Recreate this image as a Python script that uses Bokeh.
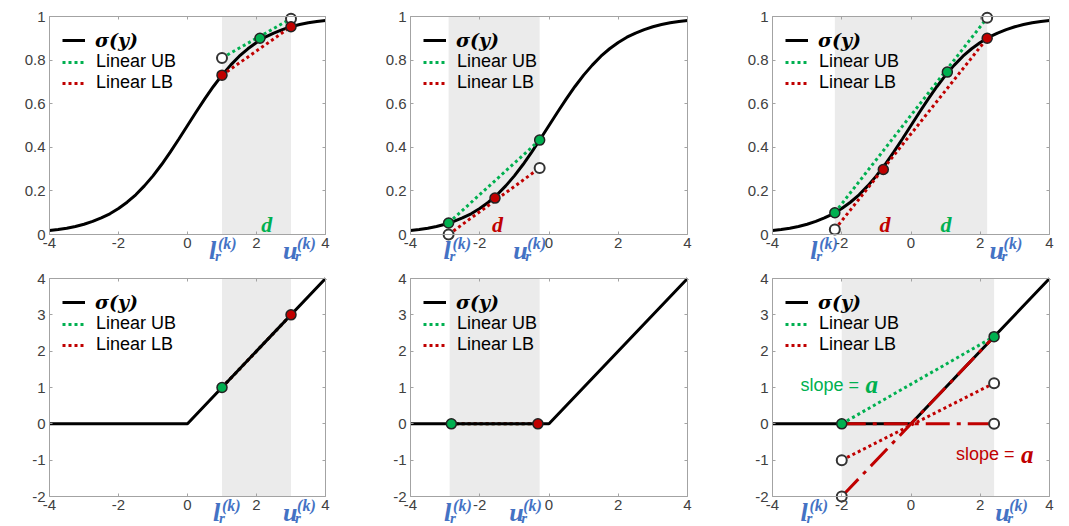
from bokeh.plotting import figure
from bokeh.layouts import column, row
from bokeh.models import (Range1d, LinearAxis, FixedTicker, BoxAnnotation, Label,
                          Legend, LegendItem)
from bokeh.embed import file_html
from bokeh.resources import INLINE

# ---------------- data ----------------
SIG_X = [-4, -3.75, -3.5, -3.25, -3, -2.75, -2.5, -2.25, -2, -1.75, -1.5, -1.25, -1,
         -0.75, -0.5, -0.25, 0, 0.25, 0.5, 0.75, 1, 1.25, 1.5, 1.75, 2, 2.25, 2.5,
         2.75, 3, 3.25, 3.5, 3.75, 4]
SIG_Y = [0.018, 0.023, 0.029, 0.037, 0.047, 0.060, 0.076, 0.095, 0.119, 0.148, 0.182,
         0.223, 0.269, 0.321, 0.378, 0.438, 0.500, 0.562, 0.622, 0.679, 0.731, 0.777,
         0.818, 0.852, 0.881, 0.905, 0.924, 0.940, 0.953, 0.963, 0.971, 0.977, 0.982]
RELU_X = [-4, 0, 4]
RELU_Y = [0, 0, 4]

X_TICKS = [-4, -2, 0, 2, 4]
X_TICK_LABELS = ["-4", "-2", "0", "2", "4"]
SIG_Y_TICKS = [0, 0.2, 0.4, 0.6, 0.8, 1]
SIG_Y_TICK_LABELS = ["0", "0.2", "0.4", "0.6", "0.8", "1"]
RELU_Y_TICKS = [-2, -1, 0, 1, 2, 3, 4]
RELU_Y_TICK_LABELS = ["-2", "-1", "0", "1", "2", "3", "4"]

LEGEND_LABELS = ["σ(y)", "Linear UB", "Linear LB"]

# panel 1: sigmoid, concave region
P1_BAND = [1.0, 3.0]
P1_UB_X = [1.0, 3.0]
P1_UB_Y = [0.81, 0.99]
P1_LB_X = [1.0, 3.0]
P1_LB_Y = [0.731, 0.953]
P1_GREEN_X = [2.1]
P1_GREEN_Y = [0.90]
P1_RED_X = [1.0, 3.0]
P1_RED_Y = [0.731, 0.953]
P1_OPEN_X = [1.0, 3.0]
P1_OPEN_Y = [0.81, 0.99]

# panel 2: sigmoid, convex region
P2_BAND = [-2.9, -0.27]
P2_UB_X = [-2.9, -0.27]
P2_UB_Y = [0.053, 0.433]
P2_LB_X = [-2.9, -0.27]
P2_LB_Y = [0.0, 0.305]
P2_GREEN_X = [-2.9, -0.27]
P2_GREEN_Y = [0.053, 0.433]
P2_RED_X = [-1.56]
P2_RED_Y = [0.167]
P2_OPEN_X = [-2.9, -0.27]
P2_OPEN_Y = [0.0, 0.305]

# panel 3: sigmoid, mixed region
P3_BAND = [-2.2, 2.2]
P3_UB_X = [-2.2, 2.2]
P3_UB_Y = [0.100, 0.994]
P3_LB_X = [-2.2, 2.2]
P3_LB_Y = [0.023, 0.900]
P3_GREEN_X = [-2.2, 1.05]
P3_GREEN_Y = [0.100, 0.745]
P3_RED_X = [-0.8, 2.2]
P3_RED_Y = [0.298, 0.900]
P3_OPEN_X = [-2.2, 2.2]
P3_OPEN_Y = [0.023, 0.994]

# panel 4: ReLU, active
P4_BAND = [1.0, 3.0]
P4_UB_X = [1.0, 3.0]
P4_UB_Y = [1.0, 3.0]
P4_LB_X = [1.0, 3.0]
P4_LB_Y = [1.0, 3.0]
P4_GREEN_X = [1.0]
P4_GREEN_Y = [1.0]
P4_RED_X = [3.0]
P4_RED_Y = [3.0]
P4_OPEN_X = []
P4_OPEN_Y = []

# panel 5: ReLU, inactive
P5_BAND = [-2.87, -0.27]
P5_UB_X = [-2.87, -0.27]
P5_UB_Y = [0.0, 0.0]
P5_LB_X = [-2.87, -0.27]
P5_LB_Y = [0.0, 0.0]
P5_GREEN_X = [-2.82]
P5_GREEN_Y = [0.0]
P5_RED_X = [-0.32]
P5_RED_Y = [0.0]
P5_OPEN_X = []
P5_OPEN_Y = []

# panel 6: ReLU, unstable
P6_BAND = [-2.0, 2.4]
P6_UB_X = [-2.0, 2.4]
P6_UB_Y = [0.0, 2.4]
P6_LB_X = [-2.0, 2.4]
P6_LB_Y = [-1.0, 1.12]
P6_GREEN_X = [-2.0, 2.4]
P6_GREEN_Y = [0.0, 2.4]
P6_RED_X = []
P6_RED_Y = []
P6_OPEN_X = [-2.0, -2.0, 2.4, 2.4]
P6_OPEN_Y = [-1.0, -2.0, 1.12, 0.0]
P6_ZERO_LB_X = [-2.0, 2.4]
P6_ZERO_LB_Y = [0.0, 0.0]
P6_ID_LB_X = [-2.0, 2.4]
P6_ID_LB_Y = [-2.0, 2.4]

# ---------------- style / layout ----------------
GREEN = "#00B050"
RED = "#C00000"
BLUE = "#4472C4"
BAND = "#EBEBEB"
AXIS = "#A3A3A3"
TICKLAB = "#404040"
SANS = "Liberation Sans"
SERIF = "Liberation Serif"

# horizontal geometry of each column: figure width, pad left of box, box width
COL_W = [359, 351, 351]
COL_PADL = [49, 51, 62]
COL_BOXW = [276, 277, 277]
# vertical geometry of each row: figure height, pad above box, box height
ROW_H = [266, 260]
ROW_PADT = [16, 12]
ROW_BOXH = [218, 218]
TXT_SHIFT = 7   # px correction for alphabetic baseline placement


def add_axis(p, side, ticks, labels, show, bounds, fixed):
    ax = LinearAxis()
    ax.ticker = FixedTicker(ticks=ticks)
    ax.minor_tick_line_color = None
    ax.axis_line_color = AXIS
    ax.axis_line_width = 1
    ax.major_tick_line_color = AXIS
    ax.major_tick_in = 3
    ax.major_tick_out = 0
    ax.bounds = bounds
    ax.fixed_location = fixed
    if show:
        ax.major_label_overrides = dict(zip(ticks, labels))
        ax.major_label_text_font = SANS
        ax.major_label_text_font_size = "15px"
        ax.major_label_text_color = TICKLAB
        ax.major_label_standoff = 4 if side == "left" else 3
    else:
        ax.major_label_overrides = {t: "" for t in ticks}
        ax.major_label_text_font_size = "0px"
        ax.major_label_standoff = 0
    p.add_layout(ax, side)


def make_panel(c, r, cfg):
    if r == 0:
        ymin, ymax = 0.0, 1.0
        yt, ytl = SIG_Y_TICKS, SIG_Y_TICK_LABELS
    else:
        ymin, ymax = -2.0, 4.0
        yt, ytl = RELU_Y_TICKS, RELU_Y_TICK_LABELS
    xmin, xmax = -4.0, 4.0
    W, H = COL_W[c], ROW_H[r]
    padl, boxw = COL_PADL[c], COL_BOXW[c]
    padr = W - padl - boxw
    padt, boxh = ROW_PADT[r], ROW_BOXH[r]
    padb = H - padt - boxh
    dx = (xmax - xmin) / boxw
    dy = (ymax - ymin) / boxh

    def below(px):
        return ymin - (px - TXT_SHIFT) * dy

    p = figure(width=W, height=H,
               x_range=Range1d(xmin - padl * dx, xmax + padr * dx),
               y_range=Range1d(ymin - padb * dy, ymax + padt * dy),
               x_axis_type=None, y_axis_type=None,
               output_backend="svg", toolbar_location=None,
               min_border_left=0, min_border_right=0,
               min_border_top=0, min_border_bottom=0)
    p.outline_line_color = None
    p.background_fill_color = "white"
    p.border_fill_color = "white"

    add_axis(p, "below", X_TICKS, X_TICK_LABELS, True, (xmin, xmax), ymin)
    add_axis(p, "above", X_TICKS, X_TICK_LABELS, False, (xmin, xmax), ymax)
    add_axis(p, "left", yt, ytl, True, (ymin, ymax), xmin)
    add_axis(p, "right", yt, ytl, False, (ymin, ymax), xmax)

    p.add_layout(BoxAnnotation(left=cfg["band"][0], right=cfg["band"][1],
                               bottom=ymin, top=ymax,
                               fill_color=BAND, fill_alpha=1.0, line_color=None,
                               level="underlay"))

    cx, cy = (SIG_X, SIG_Y) if r == 0 else (RELU_X, RELU_Y)
    if cfg.get("bounds_under"):
        ub = p.line(cfg["ub"][0], cfg["ub"][1], line_color=GREEN, line_width=3, line_dash="3 3")
        lb = p.line(cfg["lb"][0], cfg["lb"][1], line_color=RED, line_width=3, line_dash="3 3")
        curve = p.line(cx, cy, line_color="black", line_width=3)
    else:
        curve = p.line(cx, cy, line_color="black", line_width=3)
        ub = p.line(cfg["ub"][0], cfg["ub"][1], line_color=GREEN, line_width=3, line_dash="3 3")
        lb = p.line(cfg["lb"][0], cfg["lb"][1], line_color=RED, line_width=3, line_dash="3 3")

    for ddx, ddy in cfg.get("dashdot", []):
        p.line(ddx, ddy, line_color=RED, line_width=3, line_dash="24 7 4 7")

    if cfg["open"][0]:
        p.scatter(cfg["open"][0], cfg["open"][1], size=10, fill_color="white",
                  line_color="#333333", line_width=2)
    if cfg["green"][0]:
        p.scatter(cfg["green"][0], cfg["green"][1], size=10, fill_color=GREEN,
                  line_color="#222222", line_width=1.5)
    if cfg["red"][0]:
        p.scatter(cfg["red"][0], cfg["red"][1], size=10, fill_color=RED,
                  line_color="#222222", line_width=1.5)

    # legends (location measured from the bottom-left of the frame)
    leg_a = Legend(items=[LegendItem(label=LEGEND_LABELS[0], renderers=[curve])],
                   location=(padl + 13, H - padt - 35), padding=0, margin=0, spacing=0,
                   glyph_width=23, glyph_height=20, label_height=20, label_standoff=10,
                   border_line_color=None, background_fill_alpha=0,
                   label_text_font="DejaVu Serif", label_text_font_size="19px",
                   label_text_font_style="bold italic", label_text_color="black")
    leg_b = Legend(items=[LegendItem(label=LEGEND_LABELS[1], renderers=[ub]),
                          LegendItem(label=LEGEND_LABELS[2], renderers=[lb])],
                   location=(padl + 13, H - padt - 77), padding=0, margin=0, spacing=0,
                   glyph_width=23, glyph_height=20, label_height=20, label_standoff=11,
                   border_line_color=None, background_fill_alpha=0,
                   label_text_font=SANS, label_text_font_size="18px",
                   label_text_color="black")
    p.add_layout(leg_a)
    p.add_layout(leg_b)

    # l_r^(k) and u_r^(k) labels under the axis
    for letter, lx, sup_dx, sub_dx in (("l", cfg["lab"][0], 9, 6), ("u", cfg["lab"][1], 14, 12)):
        p.add_layout(Label(x=lx, y=below(23), text=letter, text_color=BLUE,
                           text_font=SERIF, text_font_size="26px",
                           text_font_style="bold italic", text_baseline="alphabetic",
                           text_align="left"))
        p.add_layout(Label(x=lx, y=below(16), x_offset=sup_dx, text="(k)", text_color=BLUE,
                           text_font=SERIF, text_font_size="16px",
                           text_font_style="bold italic", text_baseline="alphabetic",
                           text_align="left"))
        p.add_layout(Label(x=lx, y=below(28), x_offset=sub_dx, text="r", text_color=BLUE,
                           text_font=SERIF, text_font_size="15px",
                           text_font_style="bold italic", text_baseline="alphabetic",
                           text_align="left"))

    for lx, col in cfg.get("d", []):
        p.add_layout(Label(x=lx, y=below(-3), text="d", text_color=col,
                           text_font=SERIF, text_font_size="22px",
                           text_font_style="bold italic", text_baseline="alphabetic",
                           text_align="center"))

    for sx, sy, col in cfg.get("slope", []):
        sy2 = sy + TXT_SHIFT * dy
        p.add_layout(Label(x=sx, y=sy2, text="slope = ", text_color=col,
                           text_font=SANS, text_font_size="18px",
                           text_baseline="alphabetic", text_align="left"))
        p.add_layout(Label(x=sx, y=sy2, x_offset=65, text="a", text_color=col,
                           text_font=SERIF, text_font_size="25px",
                           text_font_style="bold italic", text_baseline="alphabetic",
                           text_align="left"))
    return p


cfgs = [
    dict(band=P1_BAND, ub=(P1_UB_X, P1_UB_Y), lb=(P1_LB_X, P1_LB_Y),
         green=(P1_GREEN_X, P1_GREEN_Y), red=(P1_RED_X, P1_RED_Y),
         open=(P1_OPEN_X, P1_OPEN_Y), lab=(0.62, 2.77), d=[(2.3, GREEN)]),
    dict(band=P2_BAND, ub=(P2_UB_X, P2_UB_Y), lb=(P2_LB_X, P2_LB_Y),
         green=(P2_GREEN_X, P2_GREEN_Y), red=(P2_RED_X, P2_RED_Y),
         open=(P2_OPEN_X, P2_OPEN_Y), lab=(-3.05, -1.03), d=[(-1.49, RED)]),
    dict(band=P3_BAND, ub=(P3_UB_X, P3_UB_Y), lb=(P3_LB_X, P3_LB_Y),
         green=(P3_GREEN_X, P3_GREEN_Y), red=(P3_RED_X, P3_RED_Y),
         open=(P3_OPEN_X, P3_OPEN_Y), lab=(-2.91, 2.27), d=[(-0.75, RED), (1.01, GREEN)]),
    dict(band=P4_BAND, ub=(P4_UB_X, P4_UB_Y), lb=(P4_LB_X, P4_LB_Y),
         green=(P4_GREEN_X, P4_GREEN_Y), red=(P4_RED_X, P4_RED_Y),
         open=(P4_OPEN_X, P4_OPEN_Y), lab=(0.74, 2.77), bounds_under=True),
    dict(band=P5_BAND, ub=(P5_UB_X, P5_UB_Y), lb=(P5_LB_X, P5_LB_Y),
         green=(P5_GREEN_X, P5_GREEN_Y), red=(P5_RED_X, P5_RED_Y),
         open=(P5_OPEN_X, P5_OPEN_Y), lab=(-3.03, -1.15), bounds_under=True),
    dict(band=P6_BAND, ub=(P6_UB_X, P6_UB_Y), lb=(P6_LB_X, P6_LB_Y),
         green=(P6_GREEN_X, P6_GREEN_Y), red=(P6_RED_X, P6_RED_Y),
         open=(P6_OPEN_X, P6_OPEN_Y), lab=(-3.19, 2.43),
         dashdot=[(P6_ZERO_LB_X, P6_ZERO_LB_Y), (P6_ID_LB_X, P6_ID_LB_Y)],
         slope=[(-3.19, 0.885, GREEN), (1.30, -1.03, RED)]),
]

figs = [make_panel(i % 3, i // 3, cfg) for i, cfg in enumerate(cfgs)]
layout = column(row(*figs[:3], spacing=0), row(*figs[3:], spacing=0), spacing=0)

open("out.html", "w").write(file_html(layout, INLINE))
